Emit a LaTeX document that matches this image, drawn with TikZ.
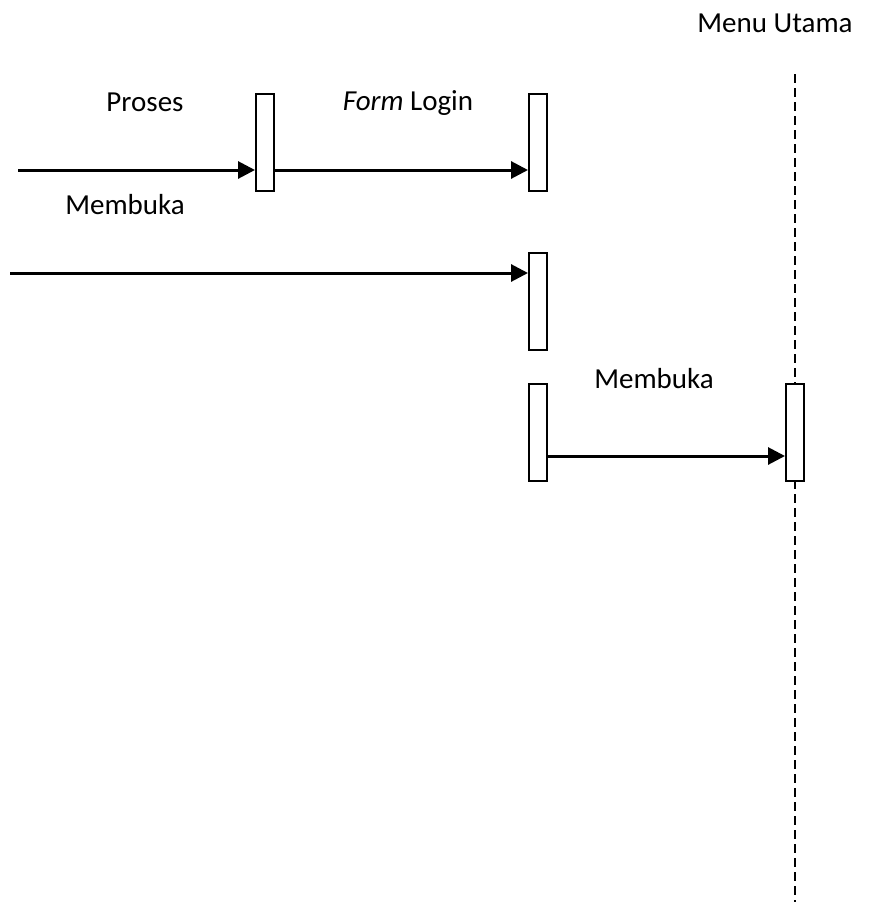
\documentclass[tikz,border=0pt]{standalone}
\usepackage{fontspec}
\setmainfont{Carlito}
\usetikzlibrary{arrows.meta}
\begin{document}
\begin{tikzpicture}[x=1pt, y=-1pt]

  \tikzstyle{activation} = [draw, fill=white, line width=2, minimum width=18pt, minimum height=97pt, inner sep=0]
  \tikzstyle{message} = [line width=3, -{Triangle[length=17pt, width=17pt]}]
  \tikzstyle{label} = [anchor=base, inner sep=0, font=\fontsize{29}{34}\selectfont]

  \useasboundingbox (0,0) rectangle (873,902);

  % lifeline of Menu Utama
  \node[label] (menu) at (775,32) {Menu Utama};
  \coordinate (lifetop) at (795,74);
  \coordinate (lifeend) at (795,902);
  \draw[line width=2, dash pattern=on 9pt off 5pt] (lifetop) -- (lifeend);

  % activation boxes
  \node[activation] (proses) at (265,142) {};
  \node[activation] (login) at (538,142) {};
  \node[activation] (loginopen) at (538,301) {};
  \node[activation] (loginout) at (538,432.5) {};
  \node[activation] (menubox) at (795,432.5) {};

  % messages
  \coordinate (in1) at (18,170);
  \coordinate (in2) at (10,273);
  \draw[message] (in1) -- (in1 -| proses.west);
  \draw[message] (proses.east |- in1) -- (login.west |- in1);
  \draw[message] (in2) -- (in2 -| loginopen.west);
  \draw[message] (loginout.east |- 0,456) -- (menubox.west |- 0,456);

  \node[label] (lproses) at (145,111) {Proses};
  \node[label] (lform) at (408,110) {\textit{Form} Login};
  \node[label] (lbuka) at (125,214) {Membuka};
  \node[label] (lbukamenu) at (654,388) {Membuka};

\end{tikzpicture}
\end{document}
